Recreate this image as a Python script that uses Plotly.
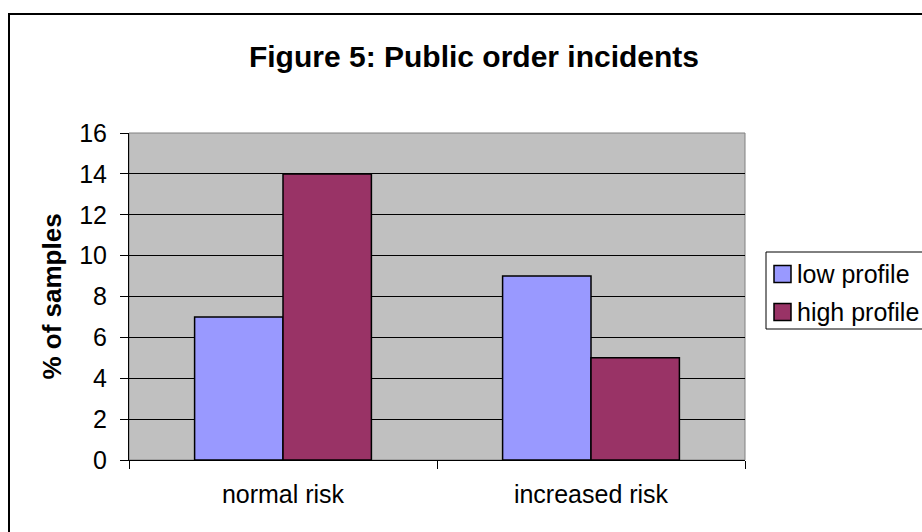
import plotly.graph_objects as go

categories = ["normal risk", "increased risk"]
low_profile = [7, 9]
high_profile = [14, 5]
y_ticks = [0, 2, 4, 6, 8, 10, 12, 14, 16]
series_names = ["low profile", "high profile"]
series_colors = ["#9999FF", "#993366"]

FONT = "Liberation Sans, Arial, sans-serif"
W, H = 922, 532
L, R, T, B = 129, 177, 133, 72
plot_w = W - L - R
plot_h = H - T - B


def px(x):
    """Horizontal pixel position -> paper fraction."""
    return (x - L) / plot_w


def py(y):
    """Vertical pixel position (from top) -> paper fraction."""
    return (H - B - y) / plot_h


fig = go.Figure()
for name, vals, color in zip(series_names, [low_profile, high_profile], series_colors):
    fig.add_trace(go.Bar(
        name=name, x=categories, y=vals,
        marker=dict(color=color, line=dict(color="black", width=1.5)),
    ))

fig.update_layout(
    width=W, height=H,
    margin=dict(l=L, r=R, t=T, b=B, autoexpand=False),
    paper_bgcolor="white",
    plot_bgcolor="#C0C0C0",
    barmode="group",
    bargap=0.426,
    bargroupgap=0,
    font=dict(family=FONT, color="black", size=25),
    title=dict(
        text="<b>Figure 5: Public order incidents</b>",
        font=dict(family=FONT, size=30, color="black"),
        x=474 / W, xanchor="center", xref="container",
        y=1 - 56 / H, yanchor="middle", yref="container",
    ),
    showlegend=False,
)

fig.update_xaxes(
    showgrid=False, showline=True, linecolor="black", linewidth=1,
    ticks="outside", ticklen=8, tickcolor="black", tickson="boundaries",
    ticklabelstandoff=12,
    tickfont=dict(family=FONT, size=25, color="black"),
)
fig.update_yaxes(
    range=[0, 16], tickvals=y_ticks,
    showgrid=True, gridcolor="black", gridwidth=1,
    showline=True, linecolor="black", linewidth=1,
    ticks="outside", ticklen=8, tickcolor="black",
    ticklabelstandoff=8,
    tickfont=dict(family=FONT, size=25, color="black"),
    title=dict(text="<b>% of samples</b>", standoff=10,
               font=dict(family=FONT, size=26, color="black")),
    zeroline=False,
)

# grey frame around the plot area
fig.add_shape(type="rect", xref="paper", yref="paper", x0=0, y0=0, x1=1, y1=1,
              line=dict(color="#808080", width=1), layer="below")

# legend box (runs past the right edge of the chart)
fig.add_shape(type="rect", xref="paper", yref="paper",
              x0=px(766), x1=px(940), y0=py(329), y1=py(252),
              line=dict(color="black", width=1), fillcolor="white", layer="above")
for i, (name, color) in enumerate(zip(series_names, series_colors)):
    cy = 274 + i * 38
    fig.add_shape(type="rect", xref="paper", yref="paper",
                  x0=px(774), x1=px(791), y0=py(cy + 8.5), y1=py(cy - 8.5),
                  line=dict(color="black", width=1.5), fillcolor=color, layer="above")
    fig.add_annotation(text=name, xref="paper", yref="paper",
                       x=px(795), y=py(cy), xanchor="left", yanchor="middle",
                       showarrow=False,
                       font=dict(family=FONT, size=25, color="black"))

# outer chart border
fig.add_shape(type="rect", xref="paper", yref="paper",
              x0=px(9), x1=px(940), y0=py(545), y1=py(14),
              line=dict(color="black", width=2), layer="above")

fig.write_html("out.html")
